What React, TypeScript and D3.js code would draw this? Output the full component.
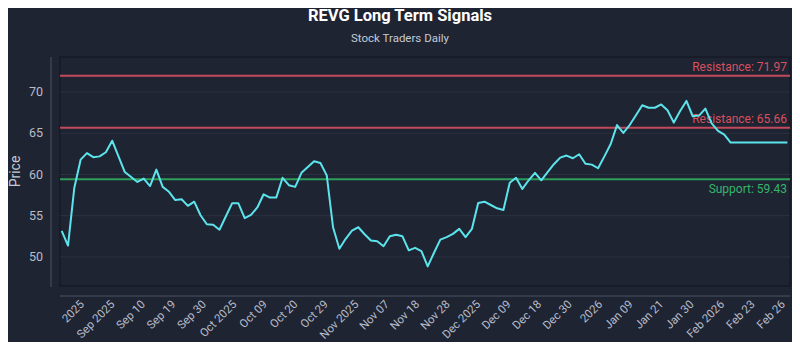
import React from "react";
import * as d3 from "d3";

const prices: number[] = [
  53.16, 51.38, 58.4, 61.8, 62.6, 62.1, 62.2, 62.7, 64.1, 62.2,
  60.3, 59.7, 59.1, 59.5, 58.6, 60.6, 58.5, 57.9, 56.9, 57.0,
  56.2, 56.7, 55.06, 53.96, 53.9, 53.3, 54.9, 56.5, 56.5, 54.7,
  55.1, 56.0, 57.6, 57.2, 57.2, 59.6, 58.7, 58.5, 60.2, 60.9,
  61.6, 61.4, 59.9, 53.6, 51.0, 52.2, 53.2, 53.6, 52.75, 52.0,
  51.9, 51.3, 52.5, 52.7, 52.5, 50.8, 51.1, 50.7, 48.85, 50.5,
  52.1, 52.4, 52.8, 53.4, 52.4, 53.4, 56.55, 56.7, 56.3, 55.9,
  55.7, 59.0, 59.6, 58.25, 59.3, 60.2, 59.3, 60.3, 61.25, 62.05,
  62.3, 61.97, 62.46, 61.3, 61.2, 60.76, 62.2, 63.7, 66.0, 65.05,
  66.0, 67.2, 68.4, 68.1, 68.1, 68.5, 67.8, 66.3, 67.7, 68.93,
  67.07, 67.15, 68.0, 66.2, 65.3, 64.85, 63.88, 63.88, 63.88, 63.88,
  63.88, 63.88, 63.88, 63.88, 63.88, 63.88,
];

const tickLabels: string[] = [
  "2025", "Sep 2025", "Sep 10", "Sep 19", "Sep 30", "Oct 2025", "Oct 09", "Oct 20",
  "Oct 29", "Nov 2025", "Nov 07", "Nov 18", "Nov 28", "Dec 2025", "Dec 09", "Dec 18",
  "Dec 30", "2026", "Jan 09", "Jan 21", "Jan 30", "Feb 2026", "Feb 23", "Feb 26",
];

const yTicks: number[] = [50, 55, 60, 65, 70];

const resistanceLevels: number[] = [71.97, 65.66];
const supportLevels: number[] = [59.43];

const W = 800;
const H = 350;
const plot = { left: 60, right: 790, top: 57, bottom: 286 };
const FONT = "Roboto, 'DejaVu Sans', sans-serif";

export default function App() {
  const x = d3
    .scaleLinear()
    .domain([0, prices.length - 1])
    .range([61.7, 787.4]);
  const y = d3.scaleLinear().domain([46.47, 74.26]).range([plot.bottom, plot.top]);

  const line = d3
    .line<number>()
    .x((_, i) => x(i))
    .y((d) => y(d));

  const tickStart = 3.68;
  const tickStep = 4.83;
  const xAxisY = 296;

  return (
    <div style={{ margin: -8 }}>
      <svg width={W} height={H} style={{ display: "block", background: "#1f2433" }}>
        <rect x={0} y={0} width={W} height={H} fill="#1f2433" />
        <text x={400} y={21} textAnchor="middle" fill="#ffffff" fontFamily={FONT} fontWeight={700} fontSize={16.5}>
          REVG Long Term Signals
        </text>
        <text x={400} y={42} textAnchor="middle" fill="#c5cad6" fontFamily={FONT} fontSize={11.5}>
          Stock Traders Daily
        </text>

        {/* plot frame */}
        <rect
          x={plot.left}
          y={plot.top}
          width={plot.right - plot.left}
          height={plot.bottom - plot.top}
          fill="#1f2433"
          stroke="#141824"
          strokeWidth={1.2}
        />
        {yTicks.map((t) => (
          <line key={t} x1={plot.left} x2={plot.right} y1={y(t)} y2={y(t)} stroke="#2a3142" strokeWidth={1} />
        ))}

        {/* y axis */}
        <line x1={51} x2={51} y1={plot.top} y2={plot.bottom + 1} stroke="#4b5263" strokeWidth={1} />
        {yTicks.map((t) => (
          <text key={t} x={43} y={y(t) + 4} textAnchor="end" fill="#b7bdca" fontFamily={FONT} fontSize={12.5}>
            {t}
          </text>
        ))}
        <text
          transform={`translate(20, ${(plot.top + plot.bottom) / 2}) rotate(-90)`}
          textAnchor="middle"
          fill="#c5cad6"
          fontFamily={FONT}
          fontSize={14}
        >
          Price
        </text>

        {/* x axis */}
        <line x1={plot.left} x2={plot.right} y1={xAxisY} y2={xAxisY} stroke="#4b5263" strokeWidth={1} />
        {tickLabels.map((lab, k) => {
          const tx = x(tickStart + k * tickStep);
          return (
            <text
              key={lab + k}
              transform={`translate(${tx}, ${xAxisY + 9}) rotate(-45)`}
              textAnchor="end"
              fill="#b7bdca"
              fontFamily={FONT}
              fontSize={11.5}
            >
              {lab}
            </text>
          );
        })}

        {/* levels */}
        {resistanceLevels.map((r) => (
          <g key={"r" + r}>
            <line x1={plot.left} x2={plot.right} y1={y(r)} y2={y(r)} stroke="#c24a5a" strokeWidth={2} />
            <text x={787} y={y(r) - 5} textAnchor="end" fill="#d9505e" fontFamily={FONT} fontSize={12}>
              {`Resistance: ${r.toFixed(2)}`}
            </text>
          </g>
        ))}
        {supportLevels.map((s) => (
          <g key={"s" + s}>
            <line x1={plot.left} x2={plot.right} y1={y(s)} y2={y(s)} stroke="#2e9e5b" strokeWidth={2} />
            <text x={787} y={y(s) + 14} textAnchor="end" fill="#35b56a" fontFamily={FONT} fontSize={12}>
              {`Support: ${s.toFixed(2)}`}
            </text>
          </g>
        ))}

        <path d={line(prices) ?? ""} fill="none" stroke="#5ce4ec" strokeWidth={2} strokeLinejoin="round" />
      </svg>
    </div>
  );
}
